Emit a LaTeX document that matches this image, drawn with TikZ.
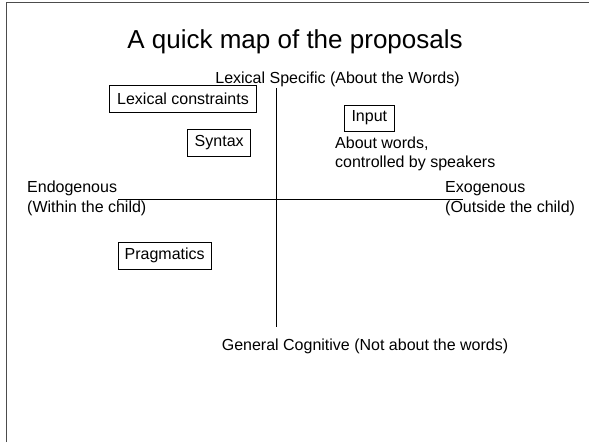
\documentclass[tikz,border=0pt]{standalone}
\usepackage{fontspec}
\setmainfont{Liberation Sans}
\begin{document}
\begin{tikzpicture}[x=1pt,y=-1pt,
  lbl/.style={inner sep=0pt,font=\fontsize{16}{19.2}\selectfont},
  tag/.style={draw=black,line width=0.8pt,inner sep=0pt,font=\fontsize{16}{19.2}\selectfont},
  axis/.style={draw=black,line width=0.9pt},
  frame/.style={draw=black!70,line width=1.4pt}]
\useasboundingbox (0,0) rectangle (589,442);
% slide frame
\coordinate (f1) at (6.5,442);
\coordinate (f2) at (6.5,2.5);
\coordinate (f3) at (589,2.5);
\draw[frame] (f1) -- (f2) -- (f3);
% title
\node[inner sep=0pt,anchor=base,font=\fontsize{26}{31}\selectfont] (title) at (295,48) {A quick map of the proposals};
% axes
\coordinate (vtop) at (276.5,88);
\coordinate (vbot) at (276.5,327);
\coordinate (hl) at (118,199);
\coordinate (hr) at (463,199);
\draw[axis] (vtop) -- (vbot);
\draw[axis] (hl) -- (hr);
% axis labels
\node[lbl,anchor=base] (lexspec) at (337.5,83) {Lexical Specific (About the Words)};
\node[lbl,anchor=base] (gencog) at (365,350) {General Cognitive (Not about the words)};
\node[lbl,anchor=base west] (endo1) at (27,192) {Endogenous};
\node[lbl,anchor=base west] (endo2) at (27,212) {(Within the child)};
\node[lbl,anchor=base west] (exo1) at (445,192) {Exogenous};
\node[lbl,anchor=base west] (exo2) at (445,212) {(Outside the child)};
% proposals
\node[tag,minimum width=147.4pt,minimum height=27.3pt] (lexcon) at (183,98.7) {Lexical constraints};
\node[tag,minimum width=63pt,minimum height=27.4pt] (syntax) at (219.2,143) {Syntax};
\node[tag,minimum width=50pt,minimum height=26pt] (input) at (369.3,118) {Input};
\node[tag,minimum width=92.7pt,minimum height=27pt] (prag) at (164.7,255.8) {Pragmatics};
\node[lbl,anchor=base west] (about1) at (335,148) {About words,};
\node[lbl,anchor=base west] (about2) at (335,167) {controlled by speakers};
\end{tikzpicture}
\end{document}
